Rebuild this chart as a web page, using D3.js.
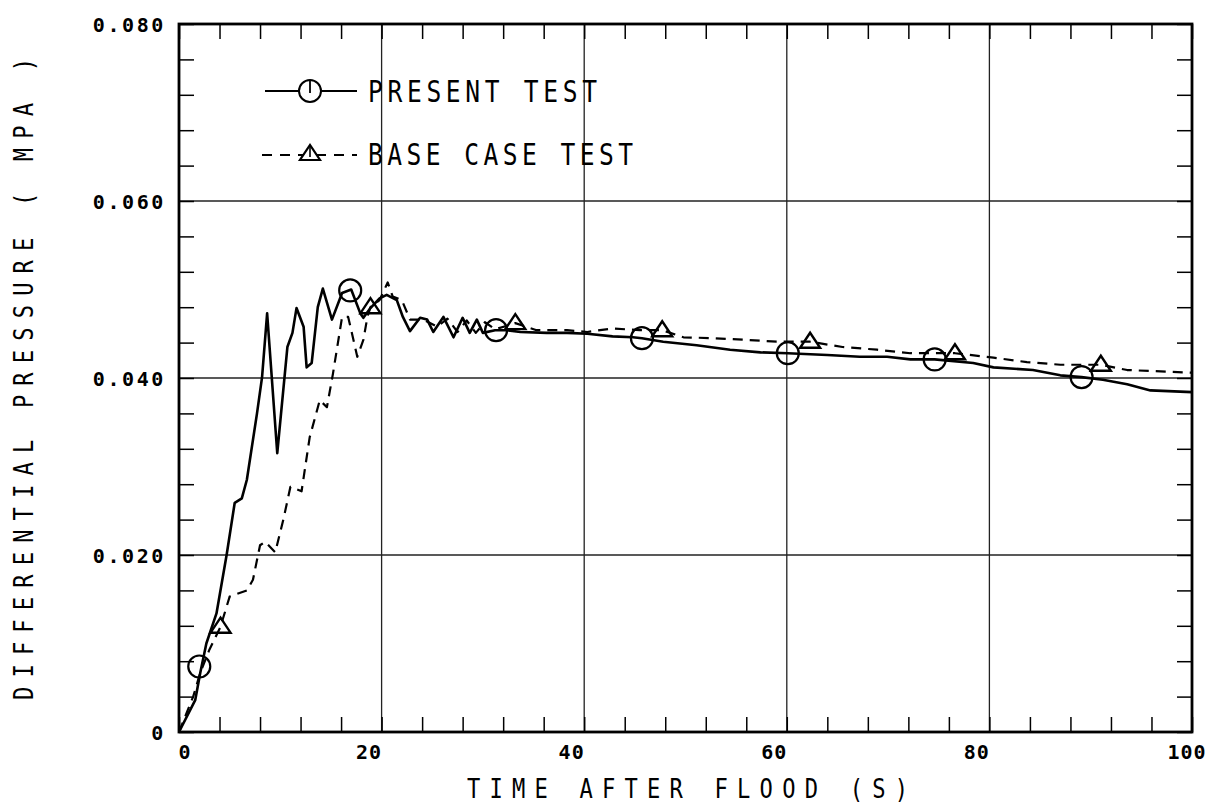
<!DOCTYPE html>
<html>
<head>
<meta charset="utf-8">
<script src="https://cdn.jsdelivr.net/npm/d3@7"></script>
<style>
  html, body { margin: 0; padding: 0; background: #fff; }
  svg { display: block; }
  .tick-label { font-family: "DejaVu Sans Mono", monospace; font-weight: bold; font-size: 20px; fill: #000; }
  .title { font-family: "DejaVu Sans Mono", monospace; font-size: 25px; fill: #000; }
</style>
</head>
<body>
<svg id="chart" width="1211" height="810"></svg>
<script>
// ---- data ----
const presentT = [0, 1.6, 2.1, 2.7, 3.7, 4.7, 5.5, 6.2, 6.7, 7.7, 8.2, 8.7, 9.7, 10.7, 11.2, 11.6, 12.3, 12.6, 13.1, 13.7, 14.2, 15.1, 16.1, 17.0, 17.9, 18.2, 18.9, 19.8, 20.5, 21.5, 22.1, 22.8, 23.8, 24.5, 25.1, 26.1, 27.1, 28.0, 28.7, 29.4, 30.0, 31.2, 32.4, 33.7, 36.3, 38.3, 40.3, 42.8, 44.8, 45.7, 47.8, 51.1, 54.4, 57.4, 60.1, 64.0, 67.2, 69.9, 72.2, 74.6, 78.4, 80.4, 84.3, 87.0, 89.1, 91.2, 93.6, 95.9, 100];
const presentP = [0, 0.0036, 0.0067, 0.0100, 0.0134, 0.0200, 0.0259, 0.0264, 0.0285, 0.0360, 0.0401, 0.0473, 0.0315, 0.0435, 0.0451, 0.0479, 0.0458, 0.0412, 0.0417, 0.0480, 0.0501, 0.0466, 0.0496, 0.0500, 0.0473, 0.0468, 0.0479, 0.0490, 0.0494, 0.0488, 0.0469, 0.0453, 0.0468, 0.0466, 0.0452, 0.0469, 0.0446, 0.0468, 0.0451, 0.0466, 0.0451, 0.0454, 0.0454, 0.0452, 0.0451, 0.0451, 0.0450, 0.0447, 0.0446, 0.0445, 0.0441, 0.0437, 0.0432, 0.0429, 0.0428, 0.0426, 0.0424, 0.0424, 0.0421, 0.0421, 0.0417, 0.0412, 0.0409, 0.0403, 0.0401, 0.0398, 0.0393, 0.0386, 0.0384];

const baseT = [0, 1.4, 2.1, 3.0, 4.1, 5.0, 6.7, 7.3, 8.0, 8.5, 9.5, 10.3, 11.0, 12.1, 12.9, 13.9, 14.6, 15.2, 16.1, 16.7, 17.6, 18.2, 18.6, 18.9, 19.8, 20.6, 21.1, 22.0, 22.8, 24.1, 25.5, 26.5, 27.5, 28.4, 29.3, 30.2, 31.2, 33.2, 35.3, 38.3, 40.3, 42.8, 45.5, 47.7, 49.8, 52.7, 56.1, 59.0, 62.3, 65.5, 68.9, 72.2, 76.6, 80.4, 83.7, 87.0, 91.0, 93.6, 100];
const baseP = [0, 0.0040, 0.0067, 0.0093, 0.0119, 0.0153, 0.0160, 0.0172, 0.0211, 0.0215, 0.0203, 0.0240, 0.0277, 0.0272, 0.0333, 0.0375, 0.0367, 0.0405, 0.0469, 0.0469, 0.0424, 0.0443, 0.0469, 0.0480, 0.0488, 0.0508, 0.0492, 0.0488, 0.0466, 0.0466, 0.0458, 0.0467, 0.0452, 0.0465, 0.0451, 0.0463, 0.0455, 0.0462, 0.0454, 0.0454, 0.0452, 0.0456, 0.0454, 0.0454, 0.0446, 0.0445, 0.0443, 0.0441, 0.0441, 0.0435, 0.0432, 0.0428, 0.0428, 0.0423, 0.0418, 0.0415, 0.0415, 0.0409, 0.0406];

const circleT = [2.0, 16.9, 31.3, 45.7, 60.1, 74.6, 89.1];
const circleP = [0.0074, 0.0499, 0.0454, 0.0445, 0.0428, 0.0421, 0.0401];
const triT = [4.1, 18.9, 33.2, 47.7, 62.3, 76.6, 91.0];
const triP = [0.0119, 0.0480, 0.0462, 0.0454, 0.0441, 0.0428, 0.0415];

const xTicks = [0, 20, 40, 60, 80, 100];
const xTickLabels = ["0", "20", "40", "60", "80", "100"];
const yTicks = [0, 0.02, 0.04, 0.06, 0.08];
const yTickLabels = ["0", "0.020", "0.040", "0.060", "0.080"];
const xMinor = d3.range(0, 100.01, 4);
const yMinor = d3.range(0, 0.0801, 0.004);
const seriesNames = ["PRESENT TEST", "BASE CASE TEST"];
const xTitle = "TIME AFTER FLOOD (S)";
const yTitle = "DIFFERENTIAL PRESSURE ( MPA )";

// ---- layout ----
const L = 179, T = 24, W = 1013, H = 708;
const svg = d3.select("#chart");
const x = d3.scaleLinear().domain([0, 100]).range([L, L + W]);
const y = d3.scaleLinear().domain([0, 0.08]).range([T + H, T]);

// grid lines
const g = svg.append("g");
g.selectAll(".vg").data(xTicks.slice(1, -1)).join("line")
  .attr("x1", d => x(d)).attr("x2", d => x(d)).attr("y1", T).attr("y2", T + H)
  .attr("stroke", "#222").attr("stroke-width", 1.3);
g.selectAll(".hg").data(yTicks.slice(1, -1)).join("line")
  .attr("y1", d => y(d)).attr("y2", d => y(d)).attr("x1", L).attr("x2", L + W)
  .attr("stroke", "#222").attr("stroke-width", 1.3);

// minor ticks (inward) on all four sides using d3 axes
const tl = 15;
svg.append("g").attr("transform", `translate(0,${T + H})`)
  .call(d3.axisTop(x).tickValues(xMinor).tickSize(tl).tickFormat(""))
  .call(a => a.select(".domain").remove())
  .selectAll("line").attr("stroke", "#000").attr("stroke-width", 1.5);
svg.append("g").attr("transform", `translate(0,${T})`)
  .call(d3.axisBottom(x).tickValues(xMinor).tickSize(tl).tickFormat(""))
  .call(a => a.select(".domain").remove())
  .selectAll("line").attr("stroke", "#000").attr("stroke-width", 1.5);
svg.append("g").attr("transform", `translate(${L},0)`)
  .call(d3.axisRight(y).tickValues(yMinor).tickSize(tl).tickFormat(""))
  .call(a => a.select(".domain").remove())
  .selectAll("line").attr("stroke", "#000").attr("stroke-width", 1.5);
svg.append("g").attr("transform", `translate(${L + W},0)`)
  .call(d3.axisLeft(y).tickValues(yMinor).tickSize(tl).tickFormat(""))
  .call(a => a.select(".domain").remove())
  .selectAll("line").attr("stroke", "#000").attr("stroke-width", 1.5);

// tick labels via axes
const xa = svg.append("g").attr("transform", `translate(0,${T + H})`)
  .call(d3.axisBottom(x).tickValues(xTicks).tickSize(0).tickPadding(0)
    .tickFormat((d, i) => xTickLabels[i]));
xa.select(".domain").remove();
xa.selectAll("text").attr("class", "tick-label").attr("font-family", null).attr("font-size", null)
  .attr("dy", null).attr("y", 27)
  .attr("text-anchor", (d, i) => i === 0 ? "start" : "end")
  .attr("x", (d, i) => i === 0 ? -1 : (i === xTicks.length - 1 ? 14 : 0))
  .attr("letter-spacing", 1);

const ya = svg.append("g").attr("transform", `translate(${L},0)`)
  .call(d3.axisLeft(y).tickValues(yTicks).tickSize(0).tickPadding(0)
    .tickFormat((d, i) => yTickLabels[i]));
ya.select(".domain").remove();
ya.selectAll("text").attr("class", "tick-label").attr("font-family", null).attr("font-size", null)
  .attr("dy", "0.36em").attr("x", -13).attr("text-anchor", "end").attr("letter-spacing", 2.6);

// frame
svg.append("rect").attr("x", L).attr("y", T).attr("width", W).attr("height", H)
  .attr("fill", "none").attr("stroke", "#000").attr("stroke-width", 2.8);

// curves
const line = d3.line().x(d => x(d[0])).y(d => y(d[1]));
const presentData = presentT.map((t, i) => [t, presentP[i]]);
const baseData = baseT.map((t, i) => [t, baseP[i]]);
svg.append("path").datum(baseData).attr("d", line)
  .attr("fill", "none").attr("stroke", "#000").attr("stroke-width", 2.2)
  .attr("stroke-dasharray", "10,7").attr("stroke-linejoin", "round");
svg.append("path").datum(presentData).attr("d", line)
  .attr("fill", "none").attr("stroke", "#000").attr("stroke-width", 2.6)
  .attr("stroke-linejoin", "round");

// markers
const triPath = (cx, cy, s) => `M${cx - s},${cy + s * 0.6}L${cx + s},${cy + s * 0.6}L${cx},${cy - s * 0.9}Z`;
svg.selectAll(".cm").data(circleT.map((t, i) => [t, circleP[i]])).join("circle")
  .attr("cx", d => x(d[0])).attr("cy", d => y(d[1])).attr("r", 11)
  .attr("fill", "none").attr("stroke", "#000").attr("stroke-width", 2.2);
svg.selectAll(".tm").data(triT.map((t, i) => [t, triP[i]])).join("path")
  .attr("d", d => triPath(x(d[0]), y(d[1]), 10))
  .attr("fill", "none").attr("stroke", "#000").attr("stroke-width", 2.4);

// legend
const lg = svg.append("g");
lg.append("line").attr("x1", 265).attr("x2", 357).attr("y1", 91).attr("y2", 91)
  .attr("stroke", "#000").attr("stroke-width", 1.8);
lg.append("circle").attr("cx", 310).attr("cy", 91).attr("r", 11)
  .attr("fill", "#fff").attr("stroke", "#000").attr("stroke-width", 2);
lg.append("line").attr("x1", 310).attr("x2", 310).attr("y1", 80).attr("y2", 93)
  .attr("stroke", "#000").attr("stroke-width", 1.8);
lg.append("line").attr("x1", 262).attr("x2", 357).attr("y1", 155).attr("y2", 155)
  .attr("stroke", "#000").attr("stroke-width", 1.8).attr("stroke-dasharray", "10,8");
lg.append("path").attr("d", triPath(310, 154, 10))
  .attr("fill", "#fff").attr("stroke", "#000").attr("stroke-width", 2.2);
lg.append("line").attr("x1", 310).attr("x2", 310).attr("y1", 146).attr("y2", 157)
  .attr("stroke", "#000").attr("stroke-width", 1.6);
const sx = 0.82;
lg.append("text").attr("class", "title")
  .attr("transform", `translate(368,102) scale(${sx},1)`)
  .attr("textLength", 229 / sx).attr("lengthAdjust", "spacing").style("font-size", "30px")
  .text(seriesNames[0]);
lg.append("text").attr("class", "title")
  .attr("transform", `translate(368,165) scale(${sx},1)`)
  .attr("textLength", 265 / sx).attr("lengthAdjust", "spacing").style("font-size", "30px")
  .text(seriesNames[1]);

// axis titles
svg.append("text").attr("class", "title")
  .attr("transform", `translate(467,798) scale(${sx},1)`)
  .style("font-size", "27px")
  .attr("textLength", 441 / sx).attr("lengthAdjust", "spacing").text(xTitle);
svg.append("text").attr("class", "title")
  .attr("transform", `translate(33,700) rotate(-90) scale(${sx},1)`)
  .style("font-size", "27px")
  .attr("textLength", 642 / sx).attr("lengthAdjust", "spacing").text(yTitle);
</script>
</body>
</html>
